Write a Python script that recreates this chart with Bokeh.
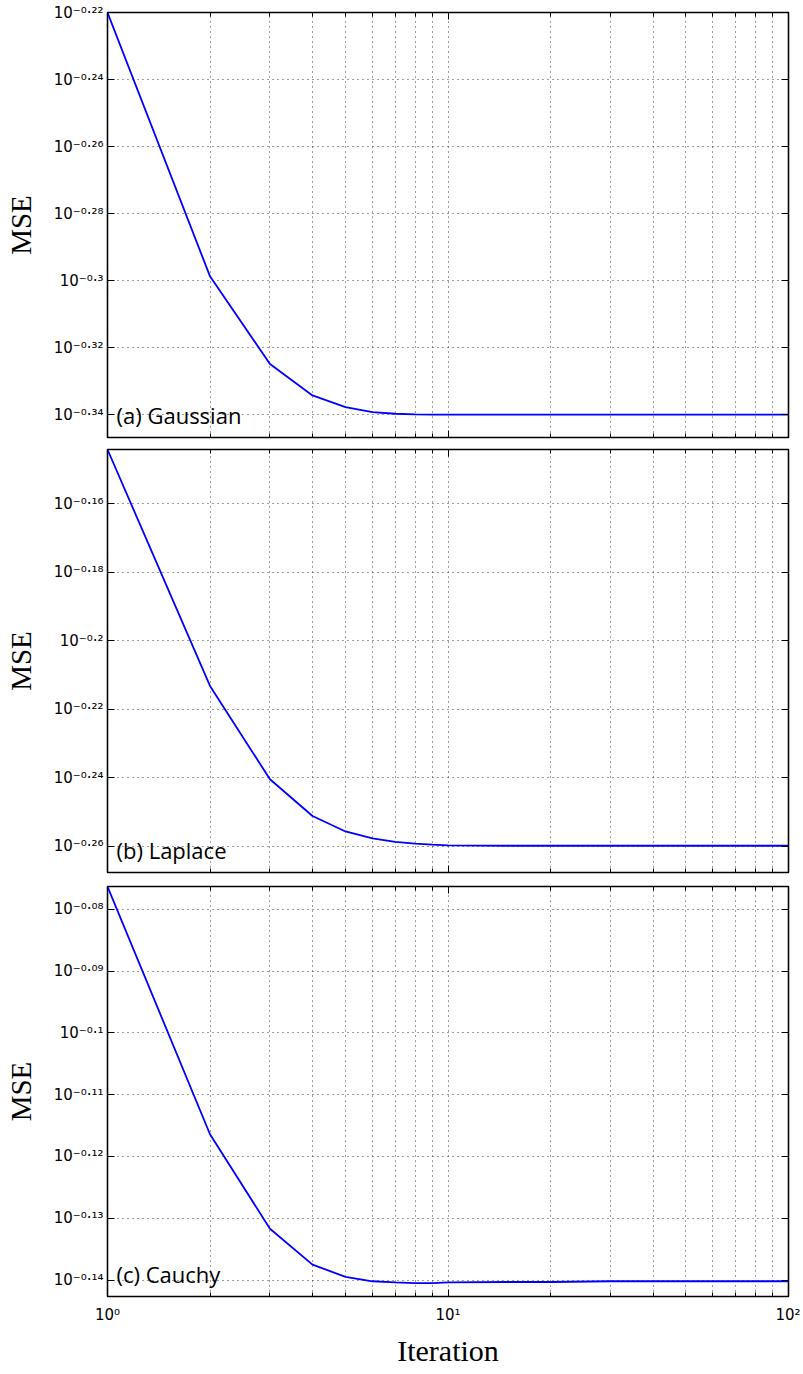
import math
from bokeh.plotting import figure
from bokeh.models import FixedTicker, LogAxis, Label, Range1d, CustomJSTickFormatter
from bokeh.layouts import column
from bokeh.embed import file_html
from bokeh.resources import INLINE

# ---------------- data ----------------
iterations = [1, 2, 3, 4, 5, 6, 7, 8, 9, 10, 15, 20, 30, 50, 70, 100]
mse_gaussian = [0.6026, 0.5027, 0.4733, 0.4632, 0.4595, 0.4579, 0.4574, 0.4572,
                0.4571, 0.4571, 0.4571, 0.4571, 0.4571, 0.4571, 0.4571, 0.4571]
mse_laplace = [0.7175, 0.6121, 0.5749, 0.5609, 0.5551, 0.5525, 0.5512, 0.5506,
               0.5502, 0.5499, 0.5498, 0.5498, 0.5498, 0.5498, 0.5498, 0.5498]
mse_cauchy = [0.8389, 0.7649, 0.7384, 0.7286, 0.7253, 0.7241, 0.7238, 0.7236,
              0.7236, 0.7238, 0.7239, 0.7239, 0.7241, 0.7241, 0.7241, 0.7241]

panel_titles = ["(a) Gaussian", "(b) Laplace", "(c) Cauchy"]
ytick_exps_gaussian = ["-0.34", "-0.32", "-0.3", "-0.28", "-0.26", "-0.24", "-0.22"]
ytick_exps_laplace = ["-0.26", "-0.24", "-0.22", "-0.2", "-0.18", "-0.16"]
ytick_exps_cauchy = ["-0.14", "-0.13", "-0.12", "-0.11", "-0.1", "-0.09", "-0.08"]
xtick_values = [1, 10, 100]
xtick_exps = ["0", "1", "2"]
xminor_values = [2, 3, 4, 5, 6, 7, 8, 9, 20, 30, 40, 50, 60, 70, 80, 90]
y_limits = [(0.45, 0.6026), (0.54, 0.7175), (0.72, 0.8389)]
x_label = "Iteration"
y_label = "MSE"

# ---------------- helpers ----------------
SUP = str.maketrans("0123456789-.", "⁰¹²³⁴⁵⁶⁷⁸⁹⁻·")
GRID_COLOR = "#3a3a3a"
TICK_FONT = "DejaVu Sans"


def power_label(exp):
    return "10" + exp.translate(SUP)


def blank():
    return CustomJSTickFormatter(code="return ''")


def style_axis(ax, minor_in=4):
    ax.major_label_standoff = 0
    ax.major_tick_in = 7
    ax.major_tick_out = 0
    ax.minor_tick_in = minor_in
    ax.minor_tick_out = 0
    ax.axis_line_color = "black"
    ax.axis_line_width = 1.2
    ax.major_tick_line_color = "black"
    ax.minor_tick_line_color = "black"
    ax.major_label_text_font = TICK_FONT
    ax.major_label_text_font_size = "15px"
    ax.major_label_text_color = "black"
    ax.axis_label_text_font = "Liberation Serif"
    ax.axis_label_text_font_style = "normal"
    ax.axis_label_text_color = "black"


def make_panel(mse, exps, ylim, title, height, bt, bb, last):
    ymin, ymax = ylim
    yt = [10 ** float(e) for e in exps]
    p = figure(width=800, height=height, x_axis_type="log", y_axis_type="log",
               x_range=Range1d(1, 100), y_range=Range1d(ymin, ymax),
               output_backend="svg", toolbar_location=None,
               min_border_left=107, min_border_right=12,
               min_border_top=bt, min_border_bottom=bb)
    p.background_fill_color = "white"
    p.border_fill_color = "white"
    p.outline_line_color = "black"
    p.outline_line_width = 1.4

    xticker = FixedTicker(ticks=xtick_values, minor_ticks=xminor_values)
    yticker = FixedTicker(ticks=yt, minor_ticks=[])

    xa = p.xaxis[0]
    ya = p.yaxis[0]
    style_axis(xa)
    style_axis(ya, minor_in=0)
    xa.ticker = xticker
    ya.ticker = yticker

    # left axis: 10^exp labels + MSE title
    ya.major_label_overrides = {t: power_label(e) for t, e in zip(yt, exps)}
    ya.major_label_standoff = 4
    ya.axis_label = y_label
    ya.axis_label_text_font_size = "29px"
    ya.axis_label_standoff = 14

    if last:
        xa.major_label_overrides = {xv: power_label(e) for xv, e in zip(xtick_values, xtick_exps)}
        xa.major_label_standoff = 9
        xa.axis_label = x_label
        xa.axis_label_text_font_size = "30px"
        xa.axis_label_standoff = 7
    else:
        xa.formatter = blank()

    top = LogAxis(ticker=FixedTicker(ticks=xtick_values, minor_ticks=xminor_values))
    right = LogAxis(ticker=FixedTicker(ticks=yt, minor_ticks=[]))
    style_axis(top)
    style_axis(right, minor_in=0)
    top.formatter = blank()
    right.formatter = blank()
    p.add_layout(top, "above")
    p.add_layout(right, "right")

    p.xgrid.ticker = xticker
    p.ygrid.ticker = yticker
    for g in (p.xgrid[0], p.ygrid[0]):
        g.grid_line_color = GRID_COLOR
        g.grid_line_dash = "1 4"
        g.grid_line_width = 1
    p.xgrid.minor_grid_line_color = GRID_COLOR
    p.xgrid.minor_grid_line_dash = "1 4"
    p.xgrid.minor_grid_line_width = 1

    p.line(iterations, mse, line_color="#0000ff", line_width=1.8)

    # panel annotation (inside the frame)
    p.add_layout(Label(x=1, y=ymin, x_offset=9, y_offset=23, text=title,
                       text_align="left", text_baseline="alphabetic",
                       text_font="Open Sans", text_font_size="22px",
                       text_color="black"))
    return p


p1 = make_panel(mse_gaussian, ytick_exps_gaussian, y_limits[0], panel_titles[0], 442, 12, 5, False)
p2 = make_panel(mse_laplace, ytick_exps_laplace, y_limits[1], panel_titles[1], 436, 7, 6, False)
p3 = make_panel(mse_cauchy, ytick_exps_cauchy, y_limits[2], panel_titles[2], 491, 8, 60, True)

layout = column(p1, p2, p3, spacing=0)
open("out.html", "w").write(file_html(layout, INLINE))
